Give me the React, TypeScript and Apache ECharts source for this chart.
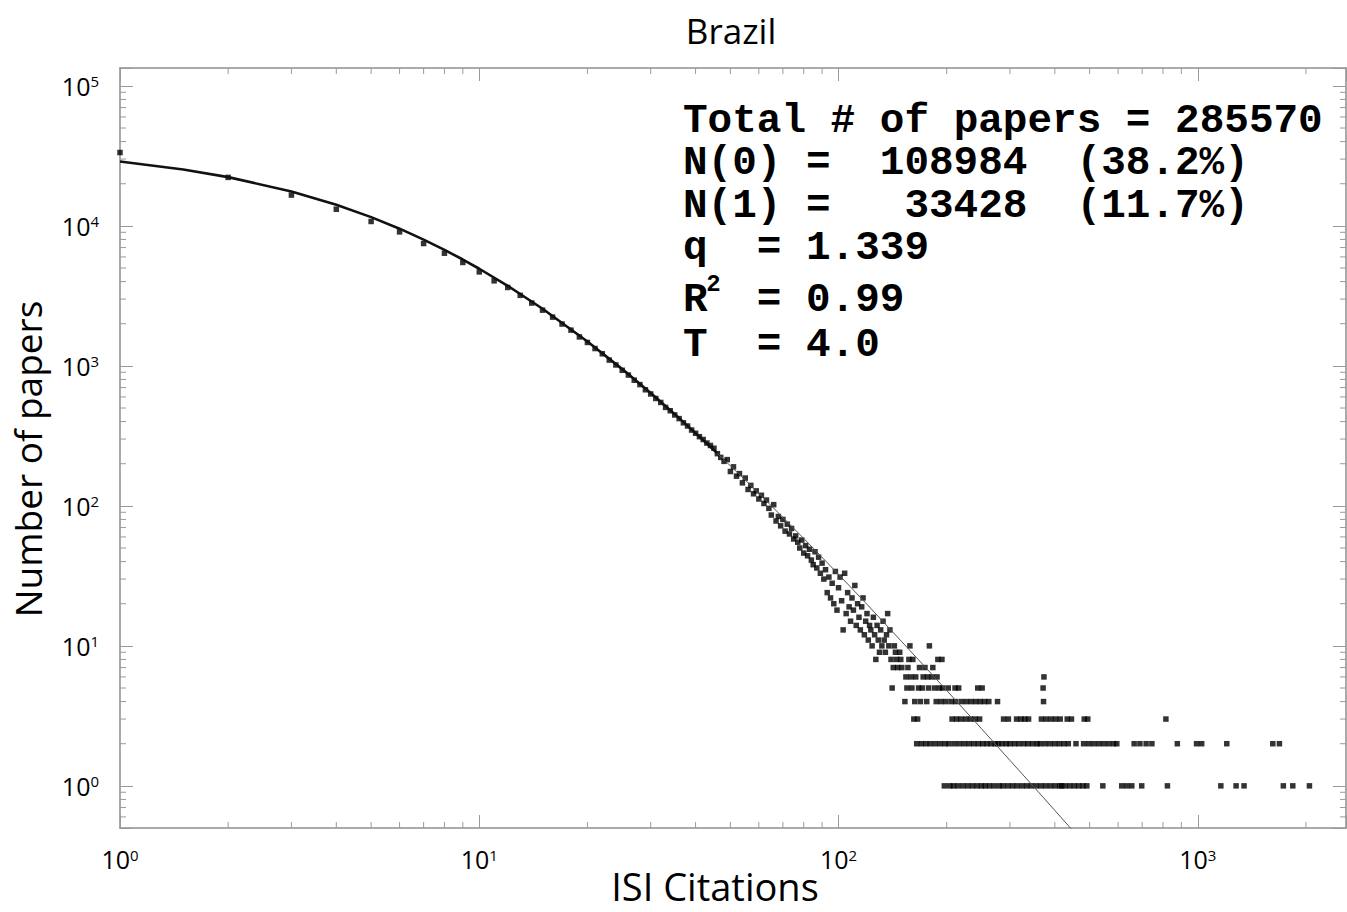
import React, { useEffect, useRef } from "react";
import * as echarts from "echarts";

// ---- data ----
const coreCitations = [1, 2, 3, 4, 5, 6, 7, 8, 9, 10, 11, 12, 13, 14, 15, 16, 17, 18, 19, 20, 21, 22, 23, 24, 25, 26, 27, 28, 29, 30, 31, 32, 33, 34, 35, 36, 37, 38, 39, 40, 41, 42, 43, 44, 45];
const coreCounts = [33428, 22200, 16600, 13150, 10750, 9060, 7480, 6380, 5480, 4690, 4050, 3630, 3190, 2810, 2500, 2230, 1990, 1800, 1610, 1470, 1330, 1220, 1100, 1015, 930, 860, 790, 735, 675, 630, 585, 548, 505, 478, 446, 420, 392, 372, 348, 330, 312, 298, 281, 270, 258];

const midCitations = [46, 47, 48, 49, 50, 51, 52, 53, 54, 55, 56, 57, 58, 59, 60, 61, 62, 63, 64, 65, 66, 67, 68, 69, 70, 71, 72, 73, 74, 75, 76, 77, 78, 79, 80, 81, 82, 83, 84, 85, 86, 87, 88, 89, 90, 91, 92, 93, 94, 95, 96, 97, 98, 99, 100, 101, 102, 103, 104, 105, 106, 107, 108, 109, 110, 111, 112, 113, 114, 115, 116, 117, 118, 119, 120, 121, 122, 123, 124, 125, 126, 127, 128, 129, 130, 131, 132, 133, 134, 135, 136, 137, 138, 139, 140];
const midCounts = [236, 222, 208, 214, 176, 190, 163, 170, 146, 158, 131, 140, 122, 128, 112, 119, 104, 110, 96, 86, 102, 78, 84, 72, 80, 66, 74, 63, 69, 58, 61, 55, 50, 57, 46, 52, 44, 49, 41, 38, 47, 36, 43, 33, 39, 30, 35, 24, 31, 22, 28, 20, 34, 18, 26, 31, 21, 13, 33, 17, 24, 19, 15, 22, 18, 27, 14, 20, 16, 13, 19, 22, 12, 15, 17, 11, 14, 13, 10, 16, 12, 8, 14, 11, 9, 13, 10, 15, 11, 9, 12, 17, 10, 13, 8];

// tail: citation values that have exactly N papers
const tailOnes = [197, 204, 209, 215, 222, 229, 236, 243, 250, 256, 263, 271, 280, 287, 296, 305, 314, 324, 334, 344, 355, 366, 377, 389, 401, 413, 418, 427, 440, 453, 466, 479, 491, 544, 614, 634, 655, 698, 823, 1159, 1278, 1345, 1730, 1838, 2045];
const tailTwos = [165, 170, 175, 180, 186, 192, 198, 203, 210, 217, 224, 231, 238, 245, 252, 259, 266, 273, 278, 285, 293, 300, 309, 318, 328, 337, 347, 357, 364, 376, 388, 400, 412, 424, 436, 458, 481, 497, 513, 530, 547, 565, 583, 595, 665, 690, 718, 745, 877, 992, 1025, 1204, 1617, 1687];
const tailThrees = [162, 166, 207, 213, 219, 226, 233, 240, 247, 288, 297, 313, 322, 330, 338, 367, 378, 390, 402, 414, 433, 445, 483, 494, 815];
const tailFours = [153, 163, 169, 176, 187, 193, 199, 206, 212, 220, 227, 234, 241, 248, 255, 262, 277, 372];
const tailFives = [141, 155, 160, 167, 171, 178, 185, 191, 195, 202, 211, 216, 244, 251, 371];
const tailSixes = [154, 159, 164, 172, 177, 182, 188, 373];
const tailSevens = [142, 146, 150, 156, 168, 174, 183];
const tailEights = [145, 149, 157, 161, 189, 194];
const tailNines = [144, 148];
const tailTens = [143, 158, 179];

// fitted q-exponential curve
const fitThickX = [1, 1.5, 2, 3, 4, 5, 6, 7, 8, 9, 10, 12, 15, 20, 25, 30, 35, 40, 46];
const fitThickY = [28840, 25290, 22300, 17620, 14160, 11550, 9550, 7980, 6740, 5750, 4940, 3730, 2560, 1494, 948, 640, 452, 331, 237];
const fitThinX = [46, 50, 55, 60, 70, 80, 85, 100, 120, 150, 175, 200, 250, 300, 350, 400, 450];
const fitThinY = [237, 193, 153, 123, 82.8, 58.5, 49.9, 32.4, 19.8, 10.7, 6.98, 4.8, 2.56, 1.52, 0.98, 0.667, 0.475];

const minorTicksX = [2, 3, 4, 5, 6, 7, 8, 9, 20, 30, 40, 50, 60, 70, 80, 90, 200, 300, 400, 500, 600, 700, 800, 900, 2000];
const minorTicksY = [0.6, 0.7, 0.8, 0.9, 2, 3, 4, 5, 6, 7, 8, 9, 20, 30, 40, 50, 60, 70, 80, 90, 200, 300, 400, 500, 600, 700, 800, 900, 2000, 3000, 4000, 5000, 6000, 7000, 8000, 9000, 20000, 30000, 40000, 50000, 60000, 70000, 80000, 90000];

const titleText = "Brazil";
const xName = "ISI Citations";
const yName = "Number of papers";
const statLines = [
  { y: 121, parts: [["Total # of papers = 285570", 0]] },
  { y: 163, parts: [["N(0) =", 0], ["108984", 8], ["(38.2%)", 16]] },
  { y: 206, parts: [["N(1) =", 0], ["33428", 9], ["(11.7%)", 16]] },
  { y: 248, parts: [["q", 0], ["= 1.339", 3]] },
  { y: 300, parts: [["R", 0], ["= 0.99", 3]] },
  { y: 345, parts: [["T", 0], ["= 4.0", 3]] },
];

const SANS = "'Open Sans', 'Noto Sans', sans-serif";
const MONO = "'Liberation Mono', 'DejaVu Sans Mono', monospace";

export default function App() {
  const ref = useRef<HTMLDivElement>(null);

  useEffect(() => {
    if (!ref.current) return;
    const chart = echarts.init(ref.current, undefined, { renderer: "svg" });

    const scatterData: number[][] = [];
    coreCitations.forEach((c, i) => scatterData.push([c, coreCounts[i]]));
    midCitations.forEach((c, i) => scatterData.push([c, midCounts[i]]));
    const rows: [number, number[]][] = [
      [1, tailOnes], [2, tailTwos], [3, tailThrees], [4, tailFours], [5, tailFives],
      [6, tailSixes], [7, tailSevens], [8, tailEights], [9, tailNines], [10, tailTens],
    ];
    rows.forEach(([n, xs]) => xs.forEach((c) => scatterData.push([c, n])));

    const powLabel = (v: number) => {
      const e = Math.log10(v);
      const r = Math.round(e);
      if (Math.abs(e - r) > 1e-6) return "";
      return `{b|10}{s|${r}}`;
    };
    const rich = {
      b: { fontFamily: SANS, fontSize: 25, color: "#000", lineHeight: 24 },
      s: { fontFamily: SANS, fontSize: 15, color: "#000", lineHeight: 14, verticalAlign: "top" },
    };
    const axisLine = { show: true, onZero: false, lineStyle: { color: "#8e8e8e", width: 1.5 } };
    const axisTick = { show: true, inside: true, length: 13, lineStyle: { color: "#9a9a9a", width: 1 } };

    const fs = 41;
    const adv = fs * 0.6;
    const x0 = 683;
    const graphic: any[] = [
      {
        type: "text", x: 731, y: 30,
        style: { text: titleText, fontFamily: SANS, fontSize: 35, lineHeight: 36, fill: "#000", textAlign: "center", align: "center", textVerticalAlign: "middle", verticalAlign: "middle" },
      },
    ];
    statLines.forEach((ln) => {
      ln.parts.forEach(([t, col]) => {
        graphic.push({
          type: "text", x: x0 + (col as number) * adv, y: ln.y,
          style: { text: t, fontFamily: MONO, fontSize: fs, fontWeight: "bold", lineHeight: 34, fill: "#000", textAlign: "left", align: "left", textVerticalAlign: "middle", verticalAlign: "middle" },
        });
      });
    });
    graphic.push({
      type: "text", x: x0 + adv * 0.95, y: 284,
      style: { text: "2", fontFamily: MONO, fontSize: 24, fontWeight: "bold", lineHeight: 20, fill: "#000", textAlign: "left", align: "left", textVerticalAlign: "middle", verticalAlign: "middle" },
    });

    const option: any = {
      animation: false,
      backgroundColor: "#ffffff",
      grid: { left: 120, right: 1, top: 68, bottom: 84, containLabel: false, outerBoundsMode: "none" },
      xAxis: [
        {
          type: "log", logBase: 10, min: 1, max: 2585, position: "bottom",
          name: xName, nameLocation: "middle", nameGap: 43, nameMoveOverlap: false,
          nameTextStyle: { fontFamily: SANS, fontSize: 38, lineHeight: 30, color: "#000", padding: [0, 36, 0, 0] },
          axisLine, axisTick,
          axisLabel: { margin: 19, formatter: powLabel, rich },
          splitLine: { show: false },
        },
        {
          type: "log", logBase: 10, min: 1, max: 2585, position: "top",
          axisLine, axisTick, axisLabel: { show: false }, splitLine: { show: false },
        },
      ],
      yAxis: [
        {
          type: "log", logBase: 10, min: 0.5, max: 134200, position: "left",
          name: yName, nameLocation: "middle", nameGap: 73, nameMoveOverlap: false,
          nameTextStyle: { fontFamily: SANS, fontSize: 37, lineHeight: 40, color: "#000", padding: [0, 22, 0, 0] },
          axisLine, axisTick,
          axisLabel: { margin: 21, formatter: powLabel, rich },
          splitLine: { show: false },
        },
        {
          type: "log", logBase: 10, min: 0.5, max: 134200, position: "right",
          axisLine, axisTick, axisLabel: { show: false }, splitLine: { show: false },
        },
      ],
      series: [
        {
          type: "custom", xAxisIndex: 0, yAxisIndex: 0, silent: true, clip: false,
          data: minorTicksX.map((v) => [v, 1]),
          renderItem: (params: any, api: any) => {
            const cs = params.coordSys;
            const px = api.coord([api.value(0), 1])[0];
            const st = { stroke: "#9a9a9a", lineWidth: 1 };
            return {
              type: "group",
              children: [
                { type: "line", shape: { x1: px, y1: cs.y + cs.height, x2: px, y2: cs.y + cs.height - 6 }, style: st },
                { type: "line", shape: { x1: px, y1: cs.y, x2: px, y2: cs.y + 6 }, style: st },
              ],
            };
          },
        },
        {
          type: "custom", xAxisIndex: 0, yAxisIndex: 0, silent: true, clip: false,
          data: minorTicksY.map((v) => [1, v]),
          renderItem: (params: any, api: any) => {
            const cs = params.coordSys;
            const py = api.coord([1, api.value(1)])[1];
            const st = { stroke: "#9a9a9a", lineWidth: 1 };
            return {
              type: "group",
              children: [
                { type: "line", shape: { x1: cs.x, y1: py, x2: cs.x + 6, y2: py }, style: st },
                { type: "line", shape: { x1: cs.x + cs.width, y1: py, x2: cs.x + cs.width - 6, y2: py }, style: st },
              ],
            };
          },
        },
        {
          type: "scatter", xAxisIndex: 0, yAxisIndex: 0, clip: false,
          symbol: "rect", symbolSize: 5.5,
          itemStyle: { color: "#000" },
          data: scatterData,
        },
        {
          type: "line", xAxisIndex: 0, yAxisIndex: 0, symbol: "none", smooth: false,
          lineStyle: { color: "#111", width: 2.6 },
          data: fitThickX.map((x, i) => [x, fitThickY[i]]),
        },
        {
          type: "line", xAxisIndex: 0, yAxisIndex: 0, symbol: "none", smooth: false,
          lineStyle: { color: "#555", width: 1 },
          data: fitThinX.map((x, i) => [x, fitThinY[i]]),
        },
      ],
      graphic,
    };

    chart.setOption(option);
    return () => chart.dispose();
  }, []);

  return (
    <div
      ref={ref}
      style={{ position: "absolute", left: 0, top: 0, width: 1347, height: 912, background: "#fff" }}
    />
  );
}
